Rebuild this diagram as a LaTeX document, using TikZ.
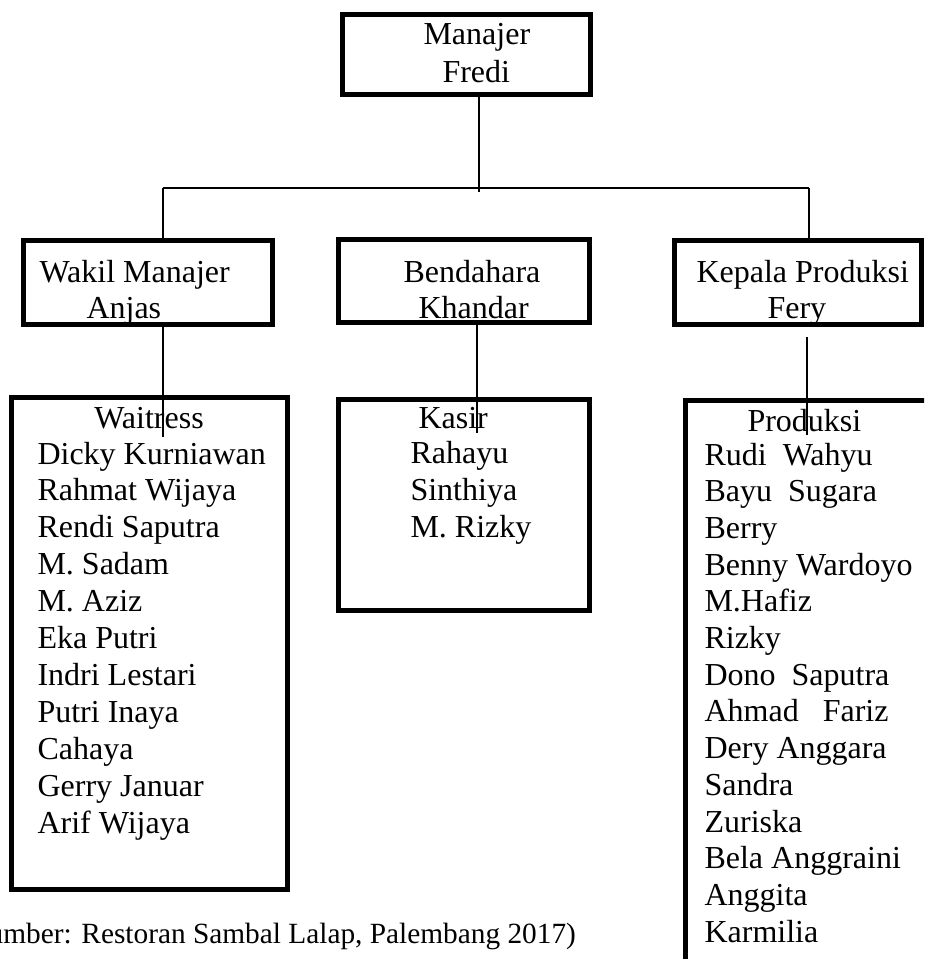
\documentclass[tikz,border=0pt]{standalone}
\usepackage{fontspec}
\setmainfont{Liberation Serif}
\usetikzlibrary{positioning}

\begin{document}
\begin{tikzpicture}[x=0.375pt, y=-0.375pt,
  unitbox/.style={draw=black, line width=1.875pt, fill=white, inner sep=0pt},
  link/.style={draw=black, line width=0.6pt},
  txt/.style={inner sep=0pt, anchor=base west, font=\fontsize{12}{14}\selectfont}]
\useasboundingbox (0,0) rectangle (924,959);
\clip (0,0) rectangle (924,959);
% boxes
\node[unitbox, minimum width=93pt, minimum height=30pt] (manajer) at (466.5,54.5) {};
\node[unitbox, minimum width=93.4pt, minimum height=31.5pt] (wakil) at (148,282.5) {};
\node[unitbox, minimum width=94.1pt, minimum height=31.1pt] (bendahara) at (464,281) {};
\node[unitbox, minimum width=92.6pt, minimum height=31.5pt] (kepala) at (798,282.5) {};
\node[unitbox, minimum width=103.5pt, minimum height=184.5pt] (waitress) at (149.5,643.5) {};
\node[unitbox, minimum width=94.1pt, minimum height=79.1pt] (kasir) at (464,505) {};
\node[unitbox, minimum width=90.75pt, minimum height=223.9pt] (produksi) at (806.5,699) {};
% box titles
\node[txt] (tManajer) at (423,45) {Manajer};
\node[txt] (tFredi) at (442,82) {Fredi};
\node[txt] (tWakil) at (39,282) {Wakil Manajer};
\node[txt] (tAnjas) at (86,318) {Anjas};
\node[txt] (tBendahara) at (403,282) {Bendahara};
\node[txt] (tKhandar) at (418,318) {Khandar};
\node[txt] (tKepala) at (696,282) {Kepala Produksi};
\node[txt] (tFery) at (767,318) {Fery};
% lists
\node[txt, anchor=base] (tWaitress) at (149,428) {Waitress};
\foreach \nm [count=\i from 0] in {Dicky Kurniawan, Rahmat Wijaya, Rendi Saputra, M. Sadam, M. Aziz, Eka Putri, Indri Lestari, Putri Inaya, Cahaya, Gerry Januar, Arif Wijaya}
  \node[txt] (w\i) at (37,{464+36.9*\i}) {\nm};
\node[txt] (tKasir) at (418,428) {Kasir};
\foreach \nm [count=\i from 0] in {Rahayu, Sinthiya, M. Rizky}
  \node[txt] (k\i) at (410,{463+37*\i}) {\nm};
\node[txt] (tProduksi) at (747,431) {Produksi};
\foreach \nm [count=\i from 0] in {Rudi~~Wahyu, Bayu~~Sugara, Berry, Benny Wardoyo, M.Hafiz, Rizky, Dono~~Saputra, Ahmad~~~Fariz, Dery Anggara, Sandra, Zuriska, Bela Anggraini, Anggita, Karmilia}
  \node[txt] (p\i) at (704,{465+36.7*\i}) {\nm};
% connectors
\coordinate (busL) at (163,188);
\coordinate (busR) at (809,188);
\coordinate (busM) at (479,192);
\coordinate (wEnd) at (163,437);
\coordinate (kEnd) at (477,433);
\coordinate (pTop) at (807,337);
\coordinate (pEnd) at (807,435);
\draw[link] (busL) -- (busR);
\draw[link] (manajer.south -| busM) -- (busM);
\draw[link] (busL) -- (busL |- wakil.north);
\draw[link] (busR) -- (busR |- kepala.north);
\draw[link] (wEnd |- wakil.south) -- (wEnd);
\draw[link] (kEnd |- bendahara.south) -- (kEnd);
\draw[link] (pTop) -- (pEnd);
% source
\node[inner sep=0pt, anchor=base west, font=\fontsize{11}{13}\selectfont] (sumber) at (-38,943) {(Sumber: Restoran Sambal Lalap, Palembang 2017)};
\end{tikzpicture}
\end{document}
